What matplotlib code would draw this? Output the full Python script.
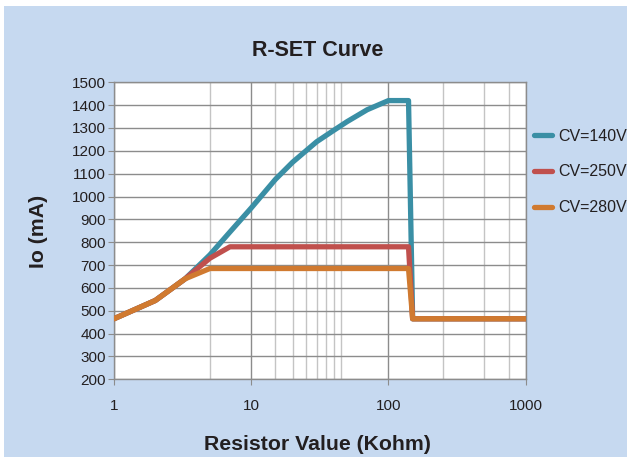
import matplotlib
matplotlib.use("Agg")
import matplotlib.pyplot as plt
from matplotlib.patches import Rectangle
from matplotlib.ticker import FixedLocator, NullFormatter

# ---- data ----
title = "R-SET Curve"
x_label = "Resistor Value (Kohm)"
y_label = "Io (mA)"

series_names = ["CV=140V", "CV=250V", "CV=280V"]

x_140 = [1, 2, 3.3, 5, 7, 10, 15, 20, 30, 40, 50, 70, 100, 140, 150, 1000]
y_140 = [465, 545, 640, 745, 845, 950, 1075, 1150, 1240, 1290, 1328, 1380, 1420, 1420, 465, 465]

x_250 = [1, 2, 3.3, 5, 7, 140, 150, 1000]
y_250 = [465, 545, 640, 730, 780, 780, 465, 465]

x_280 = [1, 2, 3.3, 5, 140, 150, 1000]
y_280 = [465, 545, 640, 685, 685, 465, 465]

x_ticks = [1, 10, 100, 1000]
x_tick_labels = ["1", "10", "100", "1000"]
x_minor_grid = [5, 15, 20, 25, 30, 35, 40, 45, 250, 500, 750]
y_ticks = list(range(200, 1501, 100))

# ---- style ----
colors = ["#3A8FA5", "#C0504D", "#D07A30"]
bg = "#C6D9F0"
txt = "#231F20"
plt.rcParams["font.family"] = ["Liberation Sans", "DejaVu Sans"]

fig = plt.figure(figsize=(6.28, 4.57), dpi=100, facecolor="white")
fig.patches.append(Rectangle((4 / 628, 0), 623 / 628, 451 / 457,
                             transform=fig.transFigure, facecolor=bg,
                             edgecolor="none", zorder=-10))

ax = fig.add_axes([114 / 628, 1 - 379.3 / 457, (525.7 - 114) / 628, (379.3 - 82.3) / 457])
ax.set_facecolor("white")

for xs, ys, c, n in zip([x_140, x_250, x_280], [y_140, y_250, y_280], colors, series_names):
    ax.plot(xs, ys, color=c, lw=3.8, label=n, solid_capstyle="round",
            solid_joinstyle="round", zorder=3)

ax.set_xscale("log")
ax.set_xlim(1, 1000)
ax.set_ylim(200, 1500)
ax.xaxis.set_major_locator(FixedLocator(x_ticks))
ax.set_xticklabels(x_tick_labels)
ax.xaxis.set_minor_locator(FixedLocator(x_minor_grid))
ax.xaxis.set_minor_formatter(NullFormatter())
ax.set_yticks(y_ticks)

ax.grid(True, which="major", axis="both", color="#8C8C8C", lw=1.0, zorder=0)
ax.grid(True, which="minor", axis="x", color="#C4C4C4", lw=1.0, zorder=0)
ax.set_axisbelow(True)

for s in ax.spines.values():
    s.set_color("#8C8C8C")
    s.set_linewidth(1.0)

ax.tick_params(axis="x", which="major", direction="out", length=4, color="#8C8C8C",
               pad=10, labelsize=11, labelcolor=txt)
ax.tick_params(axis="x", which="minor", length=0)
ax.tick_params(axis="y", which="major", direction="out", length=4, color="#8C8C8C",
               pad=2, labelsize=11, labelcolor=txt)

fig.text(318 / 628, 1 - 51 / 457, title, ha="center", va="center",
         fontsize=15.5, fontweight="bold", color=txt)
fig.text(317 / 628, 1 - 445 / 457, x_label, ha="center", va="center",
         fontsize=15.3, fontweight="bold", color=txt)
fig.text(38 / 628, 1 - 231 / 457, y_label, ha="center", va="center",
         rotation=90, fontsize=15.3, fontweight="bold", color=txt)

fig.legend(loc="center left", bbox_to_anchor=(534 / 628, 1 - 172 / 457),
           frameon=False, fontsize=11.5, handlelength=1.1, handletextpad=0.4,
           labelspacing=1.3, borderaxespad=0, borderpad=0, labelcolor=txt)

fig.savefig("out.png", dpi=100, facecolor="white")
